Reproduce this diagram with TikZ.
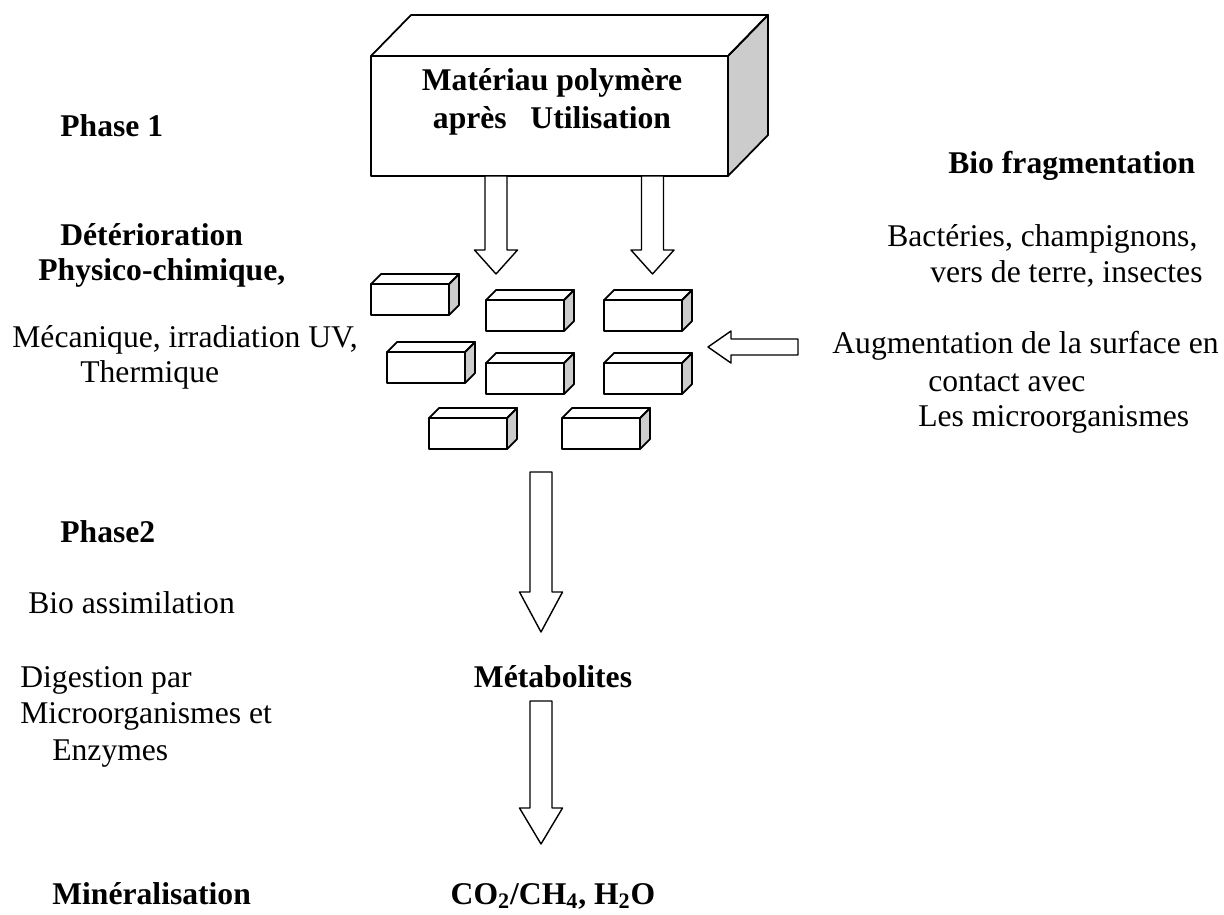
\documentclass[tikz,border=0pt]{standalone}
\usepackage{fontspec}
\setmainfont{Liberation Serif}
\usetikzlibrary{calc}
\definecolor{gris}{RGB}{204,204,204}
\newcommand{\taille}{\fontsize{18}{20.5}\selectfont}
%Flèche creuse vers le bas : départ, pointe, longueur de tête.
\newcommand{\flechebas}[3]{%
	\draw[fleche] ($(#1)+(-11,0)$)--($(#2)+(-11,-#3)$)--($(#2)+(-21.5,-#3)$)--(#2)
	--($(#2)+(21.5,-#3)$)--($(#2)+(11,-#3)$)--($(#1)+(11,0)$)--cycle;}
\begin{document}
\begin{tikzpicture}[x=0.02cm, y=-0.02cm, line join=round, line cap=round,
	boite/.style={line width=1pt},
	fleche/.style={line width=0.8pt, fill=white},
	txt/.style={inner sep=0pt, anchor=base west, font=\taille},
	gras/.style={txt, font=\taille\bfseries}]
	\useasboundingbox (0,0) rectangle (1224,914);
	%Bloc du matériau.
	\filldraw[boite, fill=gris] (728,56)--(768,15)--(768,135)--(728,176)--cycle;
	\draw[boite] (371,56)--(411,15)--(768,15)--(728,56);
	\draw[boite] (371,56) rectangle (728,176);
	\node[gras, anchor=base] (mat1) at (552,90) {Matériau polymère};
	\node[gras, anchor=base] (mat2) at (552,128) {après\ \ \ Utilisation};
	%Fragments.
	\foreach \x/\y in {371/284, 486/300, 604/300, 387/352, 486/363, 604/363, 429/418, 562/418}{
		\filldraw[boite, fill=gris] (\x+78,\y)--(\x+88,\y-10)--(\x+88,\y+21)--(\x+78,\y+31)--cycle;
		\draw[boite] (\x,\y)--(\x+10,\y-10)--(\x+88,\y-10)--(\x+78,\y);
		\draw[boite] (\x,\y) rectangle (\x+78,\y+31);
	}
	%Flèches.
	\coordinate (d1) at (496,176); \coordinate (p1) at (496,274);
	\coordinate (d2) at (652.5,176); \coordinate (p2) at (652.5,274);
	\coordinate (d3) at (541,472); \coordinate (p3) at (541,632);
	\coordinate (d4) at (541,701); \coordinate (p4) at (541,844);
	\flechebas{d1}{p1}{24}
	\flechebas{d2}{p2}{24}
	\flechebas{d3}{p3}{40}
	\flechebas{d4}{p4}{36}
	\coordinate (g1) at (708,347); \coordinate (g2) at (798,347);
	\draw[fleche] ($(g2)+(0,-8)$)--($(g1)+(23,-8)$)--($(g1)+(23,-16)$)--(g1)
		--($(g1)+(23,16)$)--($(g1)+(23,8)$)--($(g2)+(0,8)$)--cycle;
	%Textes à gauche.
	\node[gras] (phaseun) at (60,136) {Phase 1};
	\node[gras] (deterio) at (60,245) {Détérioration};
	\node[gras] (physico) at (38,280) {Physico-chimique,};
	\node[txt] (meca) at (12,347) {Mécanique, irradiation UV,};
	\node[txt] (thermique) at (80,382) {Thermique};
	\node[gras] (phasedeux) at (60,542) {Phase2};
	\node[txt] (bioassim) at (28,613) {Bio assimilation};
	\node[txt] (digestion) at (20,687) {Digestion par};
	\node[txt] (microorg) at (20,723) {Microorganismes et};
	\node[txt] (enzymes) at (52,760) {Enzymes};
	\node[gras] (mineral) at (52,904) {Minéralisation};
	%Textes à droite.
	\node[gras] (biofrag) at (948,173) {Bio fragmentation};
	\node[txt] (bacteries) at (887,246) {Bactéries, champignons,};
	\node[txt] (vers) at (930,282) {vers de terre, insectes};
	\node[txt] (augment) at (832,353) {Augmentation de la surface en};
	\node[txt] (contact) at (928,391) {contact avec};
	\node[txt] (lesmicro) at (918,426) {Les microorganismes};
	%Produits.
	\node[gras, anchor=base] (metab) at (553,687) {Métabolites};
	\node[gras, anchor=base] (produits) at (553,904) {CO\textsubscript{2}/CH\textsubscript{4}, H\textsubscript{2}O};
\end{tikzpicture}
\end{document}
